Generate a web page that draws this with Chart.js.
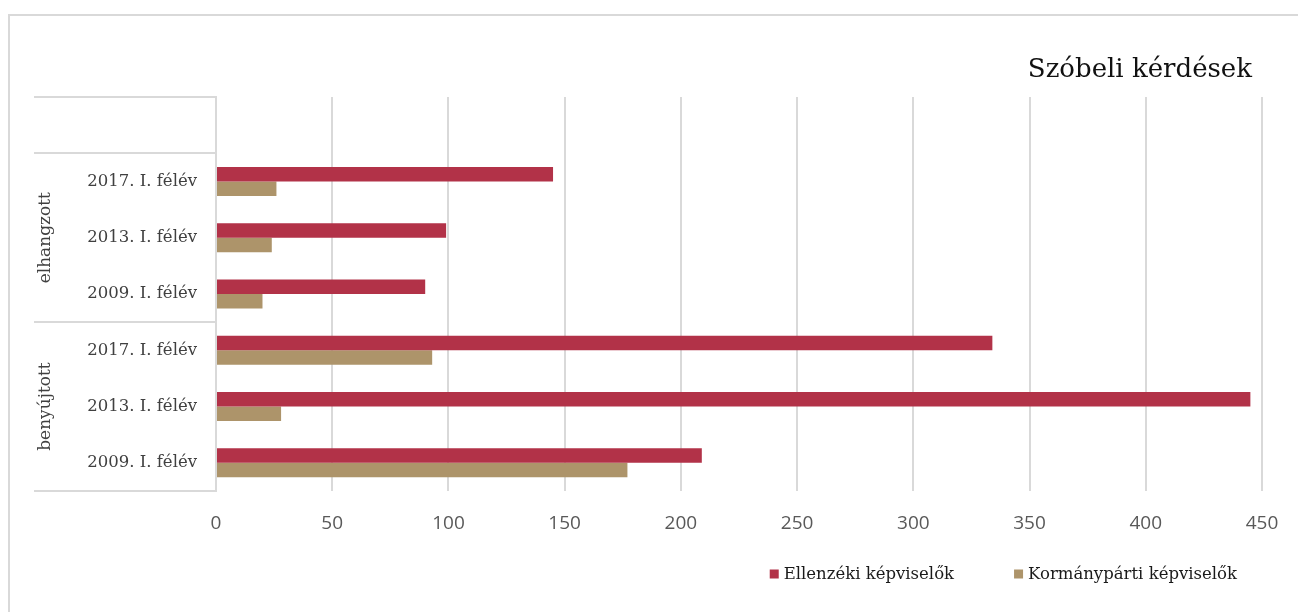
<!DOCTYPE html>
<html lang="hu">
<head>
<meta charset="utf-8">
<title>Szóbeli kérdések</title>
<script src="https://cdn.jsdelivr.net/npm/chart.js@4.4.0/dist/chart.umd.min.js"></script>
<style>
    html, body { margin: 0; padding: 0; background: #fff; }
    #chartWrap { width: 1298px; height: 612px; position: relative; }
</style>
</head>
<body>
<div id="chartWrap"><canvas id="kerdesekChart" width="1298" height="612"></canvas></div>
<script>
// ============================================
// DATA
// ============================================
const categories = ['', '2017. I. félév', '2013. I. félév', '2009. I. félév',
                    '2017. I. félév', '2013. I. félév', '2009. I. félév'];
const groupNames = ['', 'elhangzott', 'benyújtott'];
const groupStart = [0, 1, 4];
const groupEnd = [0, 3, 6];
const ellenzeki = [null, 145, 99, 90, 334, 445, 209];
const kormanyparti = [null, 26, 24, 20, 93, 28, 177];
const seriesNames = ['Ellenzéki képviselők', 'Kormánypárti képviselők'];
const xTicks = [0, 50, 100, 150, 200, 250, 300, 350, 400, 450];

const RED = '#B23248';
const GOLD = '#AD946A';
const LINE = '#d9d9d9';
const SERIF = '"DejaVu Serif", Georgia, serif';

// ============================================
// PLUGIN: frame, title, multi-level axis, legend
// ============================================
const decorPlugin = {
    id: 'decor',
    beforeDraw(chart) {
        const ctx = chart.ctx;
        ctx.save();
        ctx.fillStyle = '#fff';
        ctx.fillRect(0, 0, chart.width, chart.height);
        ctx.strokeStyle = LINE;
        ctx.lineWidth = 2;
        ctx.strokeRect(9, 15, chart.width + 20, chart.height + 20);
        ctx.restore();
    },
    afterDraw(chart) {
        const ctx = chart.ctx;
        const area = chart.chartArea;
        const y = chart.scales.y;

        ctx.save();
        // title
        ctx.fillStyle = '#111';
        ctx.font = '26px ' + SERIF;
        ctx.textAlign = 'right';
        ctx.textBaseline = 'alphabetic';
        ctx.fillText('Szóbeli kérdések', 1252, 77);

        // group separators and labels
        const half = (y.getPixelForValue(1) - y.getPixelForValue(0)) / 2;
        ctx.strokeStyle = LINE;
        ctx.lineWidth = 2;
        const bounds = [area.top];
        groupEnd.forEach(i => bounds.push(y.getPixelForValue(i) + half));
        bounds.forEach(b => {
            ctx.beginPath();
            ctx.moveTo(34, Math.round(b));
            ctx.lineTo(area.left, Math.round(b));
            ctx.stroke();
        });
        ctx.fillStyle = '#404040';
        ctx.font = '17px ' + SERIF;
        ctx.textAlign = 'center';
        ctx.textBaseline = 'middle';
        groupNames.forEach((name, g) => {
            if (!name) return;
            const cy = (y.getPixelForValue(groupStart[g]) + y.getPixelForValue(groupEnd[g])) / 2;
            ctx.save();
            ctx.translate(46, cy);
            ctx.rotate(-Math.PI / 2);
            ctx.fillText(name, 0, 0);
            ctx.restore();
        });

        // legend, right aligned
        ctx.font = '16.5px ' + SERIF;
        ctx.textAlign = 'left';
        ctx.textBaseline = 'middle';
        const colors = chart.data.datasets.map(d => d.backgroundColor);
        const widths = seriesNames.map(t => ctx.measureText(t).width);
        const box = 9, gapText = 5, gapItem = 60, ly = 574;
        let x = 1237 - widths[1] - gapText - box - gapItem - widths[0] - gapText - box;
        seriesNames.forEach((t, i) => {
            ctx.fillStyle = colors[i];
            ctx.fillRect(x, ly - box / 2, box, box);
            x += box + gapText;
            ctx.fillStyle = '#1a1a1a';
            ctx.fillText(t, x, ly + 1);
            x += widths[i] + gapItem;
        });
        ctx.restore();
    }
};

// ============================================
// CHART
// ============================================
const ctx = document.getElementById('kerdesekChart').getContext('2d');
new Chart(ctx, {
    type: 'bar',
    data: {
        labels: categories,
        datasets: [
            { label: seriesNames[0], data: ellenzeki, backgroundColor: RED },
            { label: seriesNames[1], data: kormanyparti, backgroundColor: GOLD }
        ]
    },
    options: {
        indexAxis: 'y',
        responsive: false,
        animation: false,
        devicePixelRatio: 1,
        categoryPercentage: 0.515,
        barPercentage: 1,
        layout: { padding: { left: 36, top: 97, right: 0, bottom: 0 } },
        plugins: {
            legend: { display: false },
            tooltip: { enabled: false },
            title: { display: false }
        },
        scales: {
            x: {
                min: 0,
                max: 450,
                afterBuildTicks: (scale) => { scale.ticks = xTicks.map(v => ({ value: v })); },
                afterFit: (scale) => { scale.height = 121; scale.paddingRight = 36; },
                ticks: {
                    color: '#595959',
                    padding: 21,
                    font: { family: '"Open Sans", sans-serif', size: 19 }
                },
                grid: { color: LINE, lineWidth: 2, drawTicks: false },
                border: { display: false }
            },
            y: {
                afterFit: (scale) => { scale.width = 180; },
                ticks: {
                    color: '#404040',
                    padding: 19,
                    font: { family: SERIF, size: 16.5 }
                },
                grid: { display: false, drawTicks: false },
                border: { display: true, color: LINE, width: 2 }
            }
        }
    },
    plugins: [decorPlugin]
});
</script>
</body>
</html>
